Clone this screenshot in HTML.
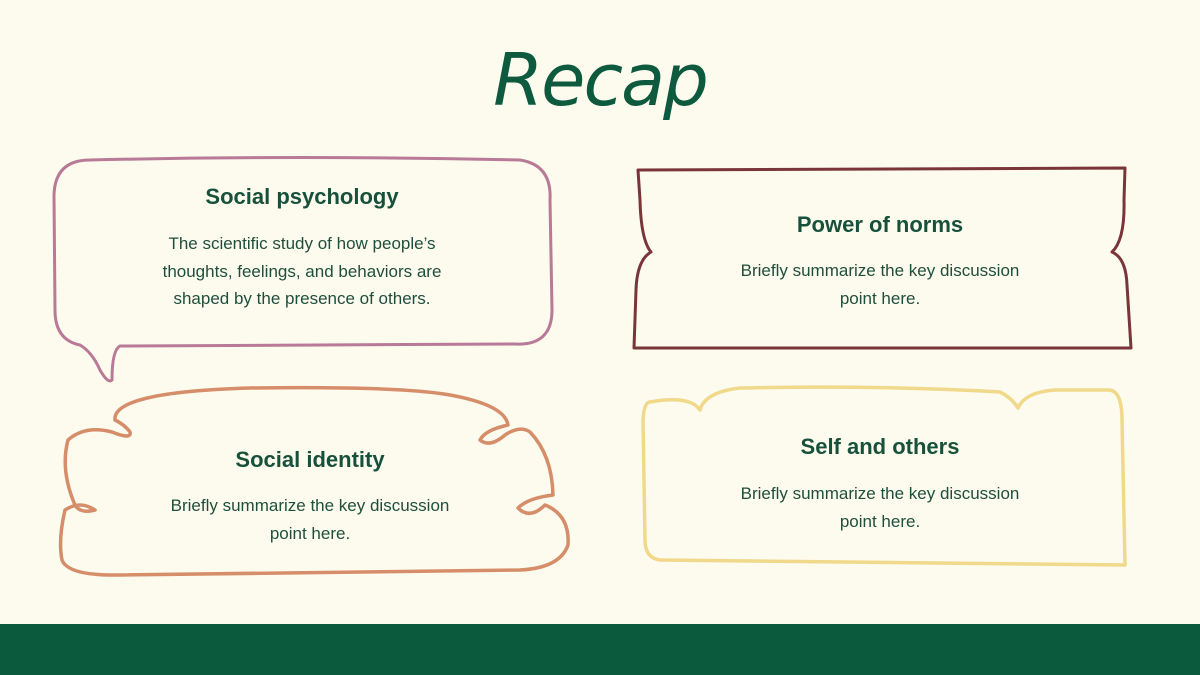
<!DOCTYPE html>
<html><head><meta charset="utf-8"><style>
html,body{margin:0;padding:0}
body{width:1200px;height:675px;background:#fdfaee;position:relative;overflow:hidden;font-family:"Liberation Sans",sans-serif;color:#17513b}
.t{position:absolute;text-align:center;width:440px}
.h{font-weight:bold;font-size:22px}
.b{font-size:17px;line-height:27.5px;color:#1f4f3c}
</style></head><body>
<div style="position:absolute;left:0;top:624px;width:1200px;height:51px;background:#0c5a3e"></div>
<div style="position:absolute;left:0;width:1200px;top:38px;text-align:center;font-family:'DejaVu Sans',sans-serif;font-style:oblique;font-size:72px;color:#0e5a3e;letter-spacing:-2px">Recap</div>
<svg width="1200" height="675" style="position:absolute;left:0;top:0" fill="none" stroke-linecap="round" stroke-linejoin="round">
<path d="M90 160 Q300 155 520 160 Q552 165 550 200 L552 310 Q552 346 515 344 L120 346 Q112 350 112 380 Q108 384 100 370 Q92 352 80 345 Q55 340 55 310 L54 195 Q55 160 90 160 Z" stroke="#b87a96" stroke-width="3"/>
<path d="M638 170 L1125 168 L1124 200 Q1125 240 1112 252 Q1126 258 1127 285 L1131 348 L634 348 L636 290 Q637 260 651 252 Q641 240 640 200 Z" stroke="#7a3538" stroke-width="3"/>
<path d="M115 420 Q112 392 250 388 Q400 386 450 395 Q505 405 508 425 Q485 430 480 440 Q490 448 505 435 Q520 425 530 432 Q552 455 553 495 Q528 498 518 508 Q530 520 545 505 Q570 515 568 545 Q560 568 520 570 L120 575 Q68 576 62 560 Q58 540 65 510 Q80 500 95 510 Q80 514 75 505 Q60 470 68 440 Q85 425 112 432 Q132 440 130 432 Q125 425 115 420 Z" stroke="#d58e69" stroke-width="3.5"/>
<path d="M650 402 Q690 395 700 410 Q705 392 740 388 Q880 385 1000 392 Q1012 398 1018 408 Q1025 392 1055 390 L1110 390 Q1122 392 1122 420 L1125 565 L660 560 Q645 558 645 540 L643 420 Q644 402 650 402 Z" stroke="#f0d98a" stroke-width="3.5"/>
</svg>
<div class="t h" style="left:82px;top:184px">Social psychology</div>
<div class="t b" style="left:82px;top:230px">The scientific study of how people’s<br>thoughts, feelings, and behaviors are<br>shaped by the presence of others.</div>
<div class="t h" style="left:660px;top:212px">Power of norms</div>
<div class="t b" style="left:660px;top:257px">Briefly summarize the key discussion<br>point here.</div>
<div class="t h" style="left:90px;top:447px">Social identity</div>
<div class="t b" style="left:90px;top:492px">Briefly summarize the key discussion<br>point here.</div>
<div class="t h" style="left:660px;top:434px">Self and others</div>
<div class="t b" style="left:660px;top:480px">Briefly summarize the key discussion<br>point here.</div>
</body></html>
